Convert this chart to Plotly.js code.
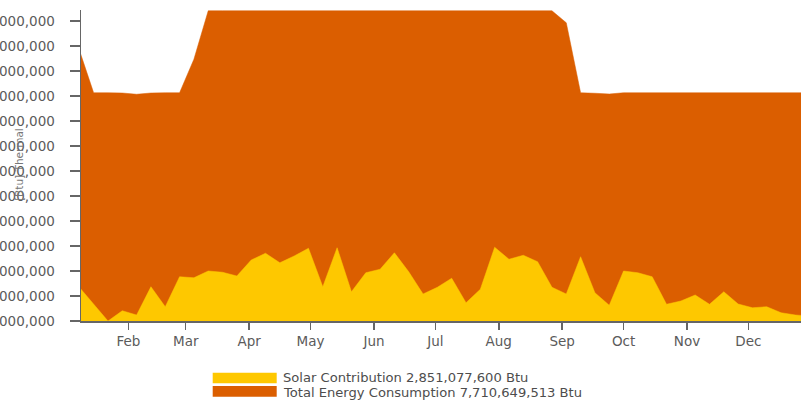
<!DOCTYPE html>
<html>
<head>
<meta charset="utf-8">
<script src="https://cdn.plot.ly/plotly-3.0.1.min.js"></script>
<style>
  html, body { margin: 0; padding: 0; background: #ffffff; }
  #chart { width: 801px; height: 408px; }
</style>
</head>
<body>
<div id="chart"></div>
<script>
// ---- data (weekly values, Btu) ----
const weeks = [
  '2021-01-08','2021-01-15','2021-01-22','2021-01-29',
  '2021-02-05','2021-02-12','2021-02-19','2021-02-26',
  '2021-03-05','2021-03-12','2021-03-19','2021-03-26',
  '2021-04-02','2021-04-09','2021-04-16','2021-04-23','2021-04-30',
  '2021-05-07','2021-05-14','2021-05-21','2021-05-28',
  '2021-06-04','2021-06-11','2021-06-18','2021-06-25',
  '2021-07-02','2021-07-09','2021-07-16','2021-07-23','2021-07-30',
  '2021-08-06','2021-08-13','2021-08-20','2021-08-27',
  '2021-09-03','2021-09-10','2021-09-17','2021-09-24',
  '2021-10-01','2021-10-08','2021-10-15','2021-10-22','2021-10-29',
  '2021-11-05','2021-11-12','2021-11-19','2021-11-26',
  '2021-12-03','2021-12-10','2021-12-17','2021-12-24','2021-12-31'
];

const totalConsumption = [
  148.4e6, 131.3e6, 131.3e6, 131.2e6,
  130.7e6, 131.2e6, 131.3e6, 131.3e6,
  144.7e6, 164.1e6, 164.1e6, 164.1e6,
  164.1e6, 164.1e6, 164.1e6, 164.1e6, 164.1e6,
  164.1e6, 164.1e6, 164.1e6, 164.1e6,
  164.1e6, 164.1e6, 164.1e6, 164.1e6,
  164.1e6, 164.1e6, 164.1e6, 164.1e6, 164.1e6,
  164.1e6, 164.1e6, 164.1e6, 164.1e6,
  159.3e6, 131.3e6, 131.1e6, 130.8e6,
  131.3e6, 131.3e6, 131.3e6, 131.3e6, 131.3e6,
  131.3e6, 131.3e6, 131.3e6, 131.3e6,
  131.3e6, 131.3e6, 131.3e6, 131.3e6, 131.3e6
];

const solarContribution = [
  53.5e6, 46.6e6, 40.0e6, 44.1e6,
  42.4e6, 53.7e6, 45.7e6, 57.7e6,
  57.3e6, 60.0e6, 59.5e6, 58.0e6,
  64.4e6, 67.1e6, 63.3e6, 66.0e6, 69.1e6,
  53.7e6, 69.3e6, 51.7e6, 59.3e6,
  60.7e6, 67.3e6, 59.7e6, 50.8e6,
  53.5e6, 57.1e6, 47.3e6, 52.7e6, 69.5e6,
  64.7e6, 66.3e6, 63.7e6, 53.5e6,
  50.8e6, 65.7e6, 51.3e6, 46.3e6,
  60.0e6, 59.3e6, 57.7e6, 46.7e6, 48.0e6,
  50.4e6, 46.7e6, 51.7e6, 46.8e6,
  45.3e6, 45.7e6, 43.3e6, 42.4e6, 42.0e6
];

const seriesNames = [
  'Solar Contribution 2,851,077,600 Btu',
  'Total Energy Consumption 7,710,649,513 Btu'
];
const yTitle = '[Btu] Thermal';

// ---- styles ----
const YELLOW = '#FEC800';
const ORANGE = '#DB5E00';
const AXIS = '#666666';
const TXT = '#5b5b5b';
const FONT = 'DejaVu Sans, Verdana, sans-serif';

const W = 801, H = 408;
const M = { l: 81, r: 0, t: 10, b: 87 };
const PW = W - M.l - M.r, PH = H - M.t - M.b;
const px = x => (x - M.l) / PW;          // page pixel -> paper x
const py = y => (H - M.b - y) / PH;      // page pixel -> paper y

const traces = [
  {
    x: weeks, y: totalConsumption, type: 'scatter', mode: 'lines',
    fill: 'tozeroy', fillcolor: ORANGE,
    line: { color: ORANGE, width: 0.5 },
    name: seriesNames[1], showlegend: false, hoverinfo: 'x+y'
  },
  {
    x: weeks, y: solarContribution, type: 'scatter', mode: 'lines',
    fill: 'tozeroy', fillcolor: YELLOW,
    line: { color: YELLOW, width: 0.5 },
    name: seriesNames[0], showlegend: false, hoverinfo: 'x+y'
  }
];

const layout = {
  width: W, height: H,
  margin: M,
  paper_bgcolor: '#ffffff', plot_bgcolor: '#ffffff',
  font: { family: FONT, color: TXT },
  xaxis: {
    type: 'date',
    range: ['2021-01-08 19:41', '2021-12-26 17:17'],
    tick0: '2021-01-01', dtick: 'M1', tickformat: '%b',
    ticks: 'outside', ticklen: 7, tickwidth: 1.5, tickcolor: AXIS,
    showline: true, linecolor: AXIS, linewidth: 1.5,
    showgrid: false, zeroline: false,
    tickfont: { family: FONT, size: 13.5, color: TXT },
    fixedrange: true
  },
  yaxis: {
    range: [40e6, 164.4e6],
    tick0: 0, dtick: 10e6, tickformat: ',d',
    ticks: 'outside', ticklen: 10, tickwidth: 1.5, tickcolor: AXIS,
    ticklabelstandoff: 12,
    showline: true, linecolor: AXIS, linewidth: 1.5,
    showgrid: false, zeroline: false,
    tickfont: { family: FONT, size: 13.5, color: TXT },
    fixedrange: true
  },
  shapes: [
    { type: 'rect', xref: 'paper', yref: 'paper', layer: 'above',
      x0: px(212.7), x1: px(276.7), y0: py(372.7), y1: py(383.3),
      fillcolor: YELLOW, line: { width: 0 } },
    { type: 'rect', xref: 'paper', yref: 'paper', layer: 'above',
      x0: px(212.7), x1: px(276.7), y0: py(386), y1: py(396.7),
      fillcolor: ORANGE, line: { width: 0 } }
  ],
  annotations: [
    { text: seriesNames[0], xref: 'paper', yref: 'paper',
      x: px(282), y: py(377.8), xanchor: 'left', yanchor: 'middle',
      showarrow: false, borderpad: 0,
      font: { family: FONT, size: 13.1, color: '#4d4d4d' } },
    { text: seriesNames[1], xref: 'paper', yref: 'paper',
      x: px(282), y: py(392.0), xanchor: 'left', yanchor: 'middle',
      showarrow: false, borderpad: 0,
      font: { family: FONT, size: 13.1, color: '#4d4d4d' } },
    { text: yTitle, xref: 'paper', yref: 'paper',
      x: px(19), y: py(165), xanchor: 'center', yanchor: 'middle',
      textangle: -90, showarrow: false,
      font: { family: FONT, size: 10.5, color: '#777777' } }
  ]
};

Plotly.newPlot('chart', traces, layout, { staticPlot: true, displayModeBar: false });
</script>
</body>
</html>
